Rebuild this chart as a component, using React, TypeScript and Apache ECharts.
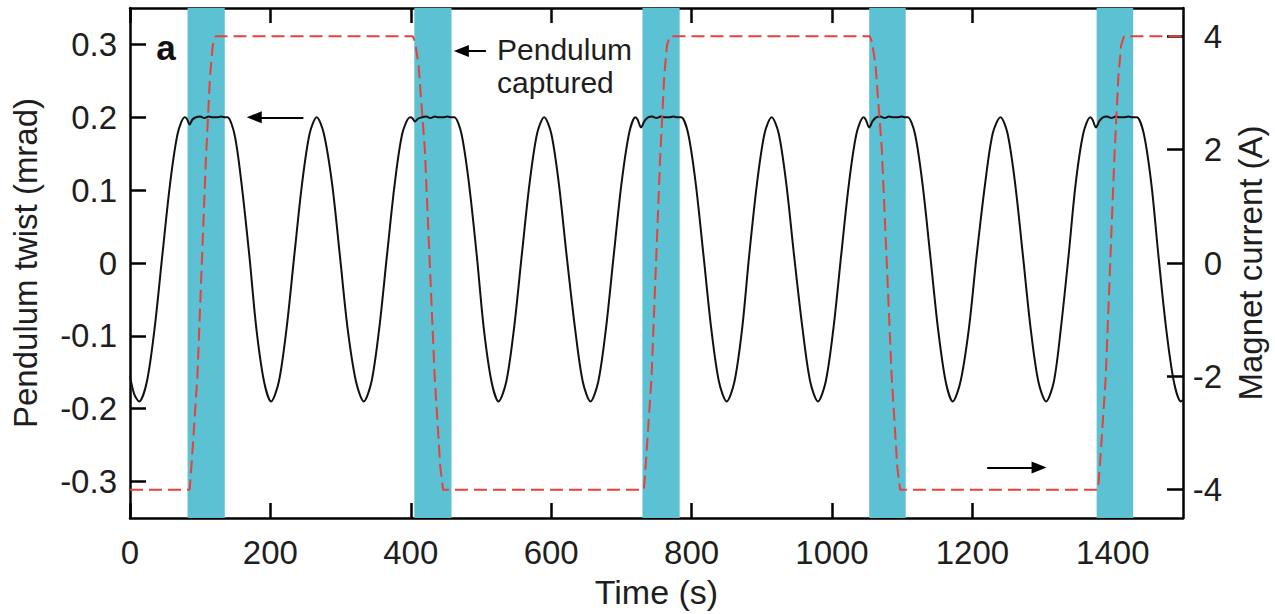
import React, { useEffect, useRef } from "react";
import * as echarts from "echarts";

// ---- data ----
const timeTicks = [0, 200, 400, 600, 800, 1000, 1200, 1400];
const twistTicks = [-0.3, -0.2, -0.1, 0, 0.1, 0.2, 0.3];
const currentTicks = [-4, -2, 0, 2, 4];

// shaded "pendulum captured" windows (s)
const captureStart = [82, 405, 730, 1053, 1377];
const captureEnd = [135, 458, 783, 1105, 1429];

// pendulum twist (mrad) vs time (s)
const pendulumTwist: [number, number][] = [
  [0, -0.155], [6, -0.18], [13, -0.19], [24, -0.163], [35, -0.09], [46, 0.01], [57, 0.108], [68, 0.178], [78, 0.2],
  [81, 0.198], [85, 0.19], [89, 0.197], [94, 0.2], [100, 0.201], [106, 0.199], [112, 0.201], [118, 0.2], [124, 0.2], [130, 0.201], [136, 0.2],
  [139, 0.2], [149, 0.176], [159, 0.108], [170, 0.01], [180, -0.09], [191, -0.163], [201, -0.19],
  [212, -0.163], [223, -0.09], [234, 0.01], [245, 0.108], [256, 0.178], [266, 0.2],
  [276, 0.178], [288, 0.108], [299, 0.01], [310, -0.09], [322, -0.163], [333, -0.19],
  [344, -0.163], [355, -0.09], [366, 0.01], [377, 0.108], [388, 0.178], [399, 0.2],
  [402, 0.199], [406, 0.194], [410, 0.198], [416, 0.2], [422, 0.201], [428, 0.199], [434, 0.201], [440, 0.2], [446, 0.2], [452, 0.201], [458, 0.2],
  [462, 0.2], [472, 0.178], [483, 0.108], [494, 0.01], [504, -0.09], [515, -0.163], [525, -0.19],
  [536, -0.163], [547, -0.09], [558, 0.01], [569, 0.108], [580, 0.178], [590, 0.2],
  [600, 0.178], [611, 0.108], [622, 0.01], [634, -0.09], [645, -0.163], [656, -0.19],
  [667, -0.163], [678, -0.09], [689, 0.01], [700, 0.108], [711, 0.178], [720, 0.2],
  [723, 0.197], [728, 0.186], [733, 0.195], [738, 0.2], [744, 0.201], [750, 0.199], [756, 0.201], [762, 0.2], [768, 0.2], [774, 0.201], [780, 0.2],
  [785, 0.2], [795, 0.178], [806, 0.108], [817, 0.01], [828, -0.09], [839, -0.163], [850, -0.19],
  [861, -0.163], [872, -0.09], [882, 0.01], [893, 0.108], [904, 0.178], [914, 0.2],
  [924, 0.178], [935, 0.108], [946, 0.01], [958, -0.09], [969, -0.163], [980, -0.19],
  [991, -0.163], [1002, -0.09], [1013, 0.01], [1024, 0.108], [1035, 0.178], [1045, 0.2],
  [1048, 0.197], [1053, 0.186], [1058, 0.195], [1063, 0.2], [1069, 0.201], [1075, 0.199], [1081, 0.201], [1087, 0.2], [1093, 0.2], [1099, 0.201], [1105, 0.2],
  [1108, 0.2], [1118, 0.178], [1129, 0.108], [1140, 0.01], [1151, -0.09], [1162, -0.163], [1172, -0.19],
  [1183, -0.163], [1195, -0.09], [1206, 0.01], [1218, 0.108], [1229, 0.178], [1240, 0.2],
  [1250, 0.178], [1261, 0.108], [1272, 0.01], [1283, -0.09], [1294, -0.163], [1305, -0.19],
  [1316, -0.163], [1326, -0.09], [1337, 0.01], [1347, 0.108], [1358, 0.178], [1368, 0.2],
  [1371, 0.197], [1376, 0.186], [1381, 0.195], [1386, 0.2], [1392, 0.201], [1398, 0.199], [1404, 0.201], [1410, 0.2], [1416, 0.2], [1422, 0.201], [1428, 0.2],
  [1434, 0.2], [1444, 0.178], [1455, 0.108], [1465, 0.01], [1476, -0.09], [1487, -0.163], [1497, -0.19], [1500, -0.188],
];

// magnet current (A) vs time (s)
const magnetCurrent: [number, number][] = [
  [0, -4], [85, -4], [88, -3.5], [96, -2], [108, 1.8], [114, 3.3], [118, 3.85], [122, 4],
  [403, 4], [406, 3.9], [411, 3.5], [420, 2], [434, -2], [442, -3.6], [446, -4],
  [732, -4], [735, -3.5], [743, -2], [755, 1.8], [761, 3.3], [765, 3.85], [769, 4],
  [1054, 4], [1057, 3.9], [1062, 3.5], [1071, 2], [1085, -2], [1093, -3.6], [1097, -4],
  [1379, -4], [1382, -3.5], [1390, -2], [1402, 1.8], [1408, 3.3], [1412, 3.85], [1416, 4], [1500, 4],
];

// annotation arrows: [tail, head] in data coordinates
const twistArrow: [number, number][] = [[247, 0.2], [177, 0.2]];
const capturedArrow: [number, number][] = [[507, 3.74], [472, 3.74]];
const currentArrow: [number, number][] = [[1221, -3.61], [1295, -3.61]];

const FONT = "'Liberation Sans', Arial, Helvetica, sans-serif";
const TXT = "#1e1e1e";

export default function App() {
  const ref = useRef<HTMLDivElement>(null);
  useEffect(() => {
    document.body.style.margin = "0";
    if (!ref.current) return;
    const chart = echarts.init(ref.current, undefined, { renderer: "svg" });
    const axisLine = { show: true, onZero: false, lineStyle: { color: "#000", width: 2.5 } };
    const arrowLine = (pts: [number, number][]) => [[{ coord: pts[0] }, { coord: pts[1] }]];
    const markLineBase = {
      silent: true,
      symbol: ["none", "triangle"],
      symbolSize: [12, 15],
      label: { show: false },
      lineStyle: { color: "#000", width: 2, type: "solid" },
      emphasis: { disabled: true },
    };
    chart.setOption({
      animation: false,
      textStyle: { fontFamily: FONT },
      grid: { left: 130, right: 85, top: 8, bottom: 93 },
      xAxis: [
        {
          type: "value",
          position: "bottom",
          min: 0,
          max: 1500,
          axisLine,
          axisTick: { inside: true, length: 15, customValues: timeTicks, lineStyle: { width: 2.5, color: "#000" } },
          axisLabel: {
            customValues: timeTicks,
            margin: 18,
            fontSize: 33,
            color: TXT,
            fontFamily: FONT,
            formatter: (v: number) => String(v),
          },
          splitLine: { show: false },
          name: "Time (s)",
          nameLocation: "middle",
          nameGap: 57,
          nameTextStyle: { fontSize: 34, color: TXT, fontFamily: FONT },
        },
        {
          type: "value",
          position: "top",
          min: 0,
          max: 1500,
          axisLine,
          axisTick: { inside: true, length: 15, customValues: timeTicks, lineStyle: { width: 2.5, color: "#000" } },
          axisLabel: { show: false },
          splitLine: { show: false },
        },
      ],
      yAxis: [
        {
          type: "value",
          position: "left",
          min: -0.35,
          max: 0.35,
          axisLine,
          axisTick: { inside: true, length: 16, customValues: twistTicks, lineStyle: { width: 2.5, color: "#000" } },
          axisLabel: {
            customValues: twistTicks,
            margin: 13,
            fontSize: 33,
            color: TXT,
            fontFamily: FONT,
            formatter: (v: number) => String(Math.round(v * 10) / 10),
          },
          splitLine: { show: false },
          name: "Pendulum twist (mrad)",
          nameLocation: "middle",
          nameRotate: 90,
          nameGap: 88,
          nameTextStyle: { fontSize: 33, color: TXT, fontFamily: FONT },
        },
        {
          type: "value",
          position: "right",
          min: -4.5,
          max: 4.5,
          axisLine,
          axisTick: { inside: true, length: 16, customValues: currentTicks, lineStyle: { width: 2.5, color: "#000" } },
          axisLabel: {
            customValues: currentTicks,
            margin: 39,
            align: "right",
            fontSize: 33,
            color: TXT,
            fontFamily: FONT,
          },
          splitLine: { show: false },
          name: "Magnet current (A)",
          nameLocation: "middle",
          nameRotate: 90,
          nameGap: 51,
          nameTextStyle: { fontSize: 33, color: TXT, fontFamily: FONT },
        },
      ],
      series: [
        {
          type: "line",
          name: "capture",
          xAxisIndex: 0,
          yAxisIndex: 0,
          data: [[0, 0]],
          showSymbol: false,
          lineStyle: { width: 0, opacity: 0 },
          z: 1,
          silent: true,
          markArea: {
            silent: true,
            itemStyle: { color: "#5cc1d2", opacity: 1 },
            data: captureStart.map((s, i) => [{ xAxis: s }, { xAxis: captureEnd[i] }]),
          },
        },
        {
          type: "line",
          name: "Pendulum twist",
          xAxisIndex: 0,
          yAxisIndex: 0,
          data: pendulumTwist,
          showSymbol: false,
          smooth: 0.3,
          lineStyle: { color: "#111", width: 2 },
          z: 3,
          markLine: { ...markLineBase, data: arrowLine(twistArrow) },
        },
        {
          type: "line",
          name: "Magnet current",
          xAxisIndex: 0,
          yAxisIndex: 1,
          data: magnetCurrent,
          showSymbol: false,
          lineStyle: { color: "#e8403c", width: 2, type: [13, 6] },
          z: 4,
          markLine: { ...markLineBase, data: [...arrowLine(capturedArrow), ...arrowLine(currentArrow)] },
        },
      ],
      graphic: [
        {
          type: "text",
          x: 166,
          y: 47,
          style: { text: "a", font: `bold 35px ${FONT}`, fill: "#111", align: "center", verticalAlign: "middle" },
        },
        {
          type: "text",
          x: 497,
          y: 49,
          style: { text: "Pendulum", font: `30px ${FONT}`, fill: TXT, align: "left", verticalAlign: "middle" },
        },
        {
          type: "text",
          x: 497,
          y: 82,
          style: { text: "captured", font: `30px ${FONT}`, fill: TXT, align: "left", verticalAlign: "middle" },
        },
      ],
    });
    return () => chart.dispose();
  }, []);
  return <div ref={ref} style={{ width: 1275, height: 614 }} />;
}
